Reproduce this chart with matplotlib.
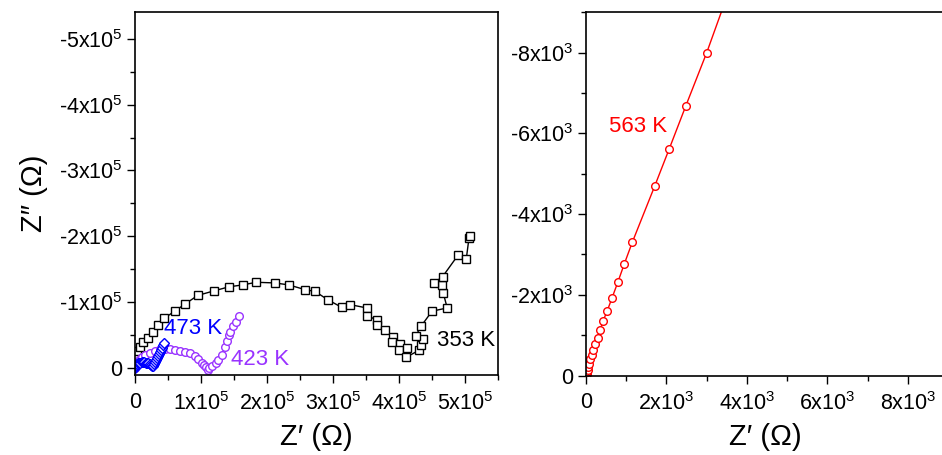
import matplotlib
matplotlib.use("Agg")
import matplotlib.pyplot as plt
from matplotlib.ticker import MultipleLocator, FixedLocator, FixedFormatter

plt.rcParams['font.family'] = ['Liberation Sans', 'DejaVu Sans']
plt.rcParams['mathtext.fontset'] = 'custom'
plt.rcParams['mathtext.rm'] = 'Liberation Sans'

# ---------------- data (Z' , Z'') ----------------
# 353 K (units of 1e5 ohm)
z353_re = [0.0, 0.01, 0.02, 0.035, 0.076, 0.126, 0.19, 0.27, 0.35, 0.44, 0.60, 0.76, 0.95,
           1.20, 1.42, 1.63, 1.84, 2.12, 2.33, 2.57, 2.73, 2.92, 3.13, 3.26, 3.51, 3.52,
           3.66, 3.67, 3.79, 3.91, 3.90, 4.02, 4.00, 4.12, 4.11, 4.31, 4.33, 4.36, 4.25,
           4.34, 4.50, 4.73, 4.67, 4.65, 4.53, 4.66, 4.90, 5.02, 5.06, 5.07]
z353_im = [-0.05, -0.12, -0.19, -0.26, -0.32, -0.385, -0.46, -0.55, -0.65, -0.75, -0.86, -0.97, -1.10,
           -1.17, -1.23, -1.26, -1.30, -1.29, -1.26, -1.19, -1.16, -1.035, -0.92, -0.96, -0.91, -0.79,
           -0.73, -0.65, -0.58, -0.47, -0.39, -0.355, -0.27, -0.30, -0.16, -0.27, -0.345, -0.43, -0.48,
           -0.64, -0.86, -0.91, -1.14, -1.26, -1.29, -1.385, -1.72, -1.66, -1.97, -2.00]

# 423 K (units of 1e5 ohm)
z423_re = [0.0, 0.005, 0.012, 0.026, 0.05, 0.076, 0.11, 0.15, 0.22, 0.30, 0.38, 0.45, 0.53,
           0.61, 0.68, 0.76, 0.83, 0.91, 0.96, 1.01, 1.04, 1.07, 1.10, 1.12, 1.16, 1.23,
           1.26, 1.32, 1.36, 1.40, 1.43, 1.44, 1.49, 1.53, 1.57]
z423_im = [0.0, -0.02, -0.04, -0.07, -0.11, -0.14, -0.17, -0.20, -0.23, -0.26, -0.28, -0.285, -0.28,
           -0.275, -0.26, -0.24, -0.22, -0.18, -0.13, -0.08, -0.04, -0.01, 0.03, 0.01, -0.03, -0.08,
           -0.12, -0.20, -0.32, -0.40, -0.50, -0.55, -0.63, -0.70, -0.78]

# 473 K (units of 1e5 ohm)
z473_re = [0.0, 0.005, 0.01, 0.02, 0.03, 0.045, 0.06, 0.08, 0.10, 0.12, 0.14, 0.16, 0.18,
           0.20, 0.22, 0.24, 0.26, 0.275, 0.29, 0.305, 0.32, 0.335, 0.35, 0.365, 0.38,
           0.395, 0.41, 0.425, 0.44]
z473_im = [0.0, -0.015, -0.03, -0.045, -0.055, -0.065, -0.075, -0.08, -0.085, -0.085, -0.085,
           -0.08, -0.075, -0.065, -0.05, -0.035, -0.02, -0.03, -0.06, -0.09, -0.12, -0.15,
           -0.18, -0.21, -0.24, -0.27, -0.30, -0.34, -0.38]

# 563 K (units of 1e3 ohm)
z563_re = [0.02, 0.03, 0.05, 0.06, 0.08, 0.10, 0.14, 0.18, 0.23, 0.29, 0.35, 0.42, 0.53,
           0.65, 0.79, 0.95, 1.15, 1.71, 2.07, 2.48, 3.00, 3.65]
z563_im = [-0.03, -0.08, -0.14, -0.22, -0.29, -0.40, -0.51, -0.64, -0.79, -0.94, -1.12, -1.34,
           -1.61, -1.93, -2.31, -2.76, -3.30, -4.70, -5.62, -6.68, -8.00, -9.80]

left_xticks = [0, 1, 2, 3, 4, 5]
left_xlabels = ['0', '1x10$^{\\mathregular{5}}$', '2x10$^{\\mathregular{5}}$', '3x10$^{\\mathregular{5}}$',
                '4x10$^{\\mathregular{5}}$', '5x10$^{\\mathregular{5}}$']
left_yticks = [0, -1, -2, -3, -4, -5]
left_ylabels = ['0', '-1x10$^{\\mathregular{5}}$', '-2x10$^{\\mathregular{5}}$', '-3x10$^{\\mathregular{5}}$',
                '-4x10$^{\\mathregular{5}}$', '-5x10$^{\\mathregular{5}}$']
right_xticks = [0, 2, 4, 6, 8]
right_xlabels = ['0', '2x10$^{\\mathregular{3}}$', '4x10$^{\\mathregular{3}}$', '6x10$^{\\mathregular{3}}$',
                 '8x10$^{\\mathregular{3}}$']
right_yticks = [0, -2, -4, -6, -8]
right_ylabels = ['0', '-2x10$^{\\mathregular{3}}$', '-4x10$^{\\mathregular{3}}$', '-6x10$^{\\mathregular{3}}$',
                 '-8x10$^{\\mathregular{3}}$']

c353, c423, c473, c563 = 'black', '#9933FF', '#0000FF', '#FF0000'

fig = plt.figure(figsize=(9.42, 4.55), dpi=100)
W, H = 942, 455
axL = fig.add_axes([135 / W, 1 - 375 / H, (498 - 135) / W, (375 - 12) / H])
axR = fig.add_axes([586 / W, 1 - 375.5 / H, (944 - 586) / W, (375.5 - 12) / H])

mk = dict(markerfacecolor='white', markeredgewidth=1.0, lw=1.0, markersize=5.5)
axL.plot(z353_re, z353_im, marker='s', color=c353, **mk)
axL.plot(z423_re, z423_im, marker='o', color=c423, **mk)
axL.plot(z473_re, z473_im, marker='D', color=c473, markerfacecolor='white',
         markeredgewidth=1.0, lw=1.0, markersize=5)
axR.plot(z563_re, z563_im, marker='o', color=c563, **mk)

axL.set_xlim(0, 5.5)
axL.set_ylim(0.11, -5.41)
axR.set_xlim(0, 8.9)
axR.set_ylim(0, -9.01)
axR.spines['right'].set_visible(False)

for ax, xt, xl, yt, yl, mx, my in [
        (axL, left_xticks, left_xlabels, left_yticks, left_ylabels, 0.5, 0.5),
        (axR, right_xticks, right_xlabels, right_yticks, right_ylabels, 1, 1)]:
    ax.xaxis.set_major_locator(FixedLocator(xt))
    ax.xaxis.set_major_formatter(FixedFormatter(xl))
    ax.yaxis.set_major_locator(FixedLocator(yt))
    ax.yaxis.set_major_formatter(FixedFormatter(yl))
    ax.xaxis.set_minor_locator(MultipleLocator(mx))
    ax.yaxis.set_minor_locator(MultipleLocator(my))
    ax.tick_params(which='major', direction='out', length=6, width=1.0, labelsize=15.5, pad=3)
    ax.tick_params(axis='x', which='major', pad=6)
    ax.tick_params(which='minor', direction='out', length=3.5, width=1.0)
    ax.tick_params(top=False, right=False)
    for s in ax.spines.values():
        s.set_linewidth(1.2)
    ax.set_xlabel("Z\u2032 (\u03a9)", fontsize=21, labelpad=6)

axL.set_ylabel("Z\u2033 (\u03a9)", fontsize=21, labelpad=8)

axL.text(0.88, -0.59, '473 K', color=c473, fontsize=16, ha='center', va='center')
axL.text(1.89, -0.13, '423 K', color=c423, fontsize=16, ha='center', va='center')
axL.text(5.01, -0.42, '353 K', color=c353, fontsize=16, ha='center', va='center')
axR.text(1.3, -6.18, '563 K', color=c563, fontsize=16, ha='center', va='center')

fig.savefig('out.png', dpi=100, facecolor='white')
